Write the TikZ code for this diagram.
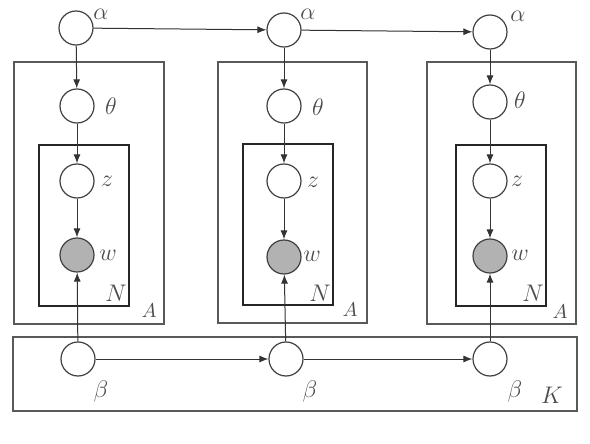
\documentclass[tikz,border=0pt]{standalone}
\usetikzlibrary{arrows.meta}
\begin{document}
\begin{tikzpicture}[x=0.5pt,y=-0.5pt,
  var/.style={circle,draw=black!75,line width=0.6pt,minimum size=17pt,inner sep=0pt,fill=white},
  obs/.style={var,fill=black!30},
  plate/.style={draw=black!65,line width=0.9pt},
  iplate/.style={draw=black!85,line width=0.55pt},
  lab/.style={text=black!70,font=\fontsize{13}{15}\selectfont,inner sep=0pt},
  edge/.style={draw=black!80,line width=0.5pt,-{Latex[length=4.5pt,width=3.5pt]}},
  link/.style={draw=black!80,line width=0.5pt}]
\useasboundingbox (0,0) rectangle (590,444);
% plates
\draw[plate] (14,62) rectangle (164,324);
\draw[plate] (218,62) rectangle (367,323);
\draw[plate] (427,62) rectangle (576,324);
\draw[iplate] (39,145) rectangle (129,306);
\draw[iplate] (243,144) rectangle (333,305);
\draw[iplate] (456,145) rectangle (546,306);
\draw[plate] (13,337) rectangle (577,411);
% column 1
\node[var] (a1) at (76,28) {};
\node[var] (t1) at (77,106) {};
\node[var] (z1) at (77,181) {};
\node[obs] (w1) at (77,255) {};
\node[var] (b1) at (78,359) {};
% column 2
\node[var] (a2) at (284,30) {};
\node[var] (t2) at (284,106) {};
\node[var] (z2) at (284,181) {};
\node[obs] (w2) at (284,257) {};
\node[var] (b2) at (286,359) {};
% column 3
\node[var] (a3) at (490,32) {};
\node[var] (t3) at (490,102) {};
\node[var] (z3) at (490,181) {};
\node[obs] (w3) at (490,256) {};
\node[var] (b3) at (490,359) {};
% labels
\node[lab] (la1) at (101,14) {$\alpha$};
\node[lab] (la2) at (308,14) {$\alpha$};
\node[lab] (la3) at (518,16) {$\alpha$};
\node[lab] (lt1) at (111,106) {$\theta$};
\node[lab] (lt2) at (318,107) {$\theta$};
\node[lab] (lt3) at (520,100) {$\theta$};
\node[lab] (lz1) at (107,181) {$z$};
\node[lab] (lz2) at (313,182) {$z$};
\node[lab] (lz3) at (517,181) {$z$};
\node[lab] (lw1) at (108,255) {$w$};
\node[lab] (lw2) at (312,256) {$w$};
\node[lab] (lw3) at (520,255) {$w$};
\node[lab] (lN1) at (116,293) {$N$};
\node[lab] (lN2) at (320,293) {$N$};
\node[lab] (lN3) at (533,293) {$N$};
\node[lab,font=\fontsize{10}{12}\selectfont] (lA1) at (149,311) {$A$};
\node[lab,font=\fontsize{10}{12}\selectfont] (lA2) at (350,310) {$A$};
\node[lab,font=\fontsize{10}{12}\selectfont] (lA3) at (560,312) {$A$};
\node[lab] (lb1) at (101,391) {$\beta$};
\node[lab] (lb2) at (310,391) {$\beta$};
\node[lab] (lb3) at (515,391) {$\beta$};
\node[lab] (lK) at (552,395) {$K$};
% edges
\draw[edge] (a1) -- (a2);
\draw[edge] (a2) -- (a3);
\draw[edge] (b1) -- (b2);
\draw[edge] (b2) -- (b3);
\foreach \i in {1,2,3}{
  \draw[edge] (a\i) -- (t\i);
  \draw[edge] (t\i) -- (z\i);
  \draw[edge] (z\i) -- (w\i);
  \draw[edge] (b\i) -- (w\i);
}
\end{tikzpicture}
\end{document}
